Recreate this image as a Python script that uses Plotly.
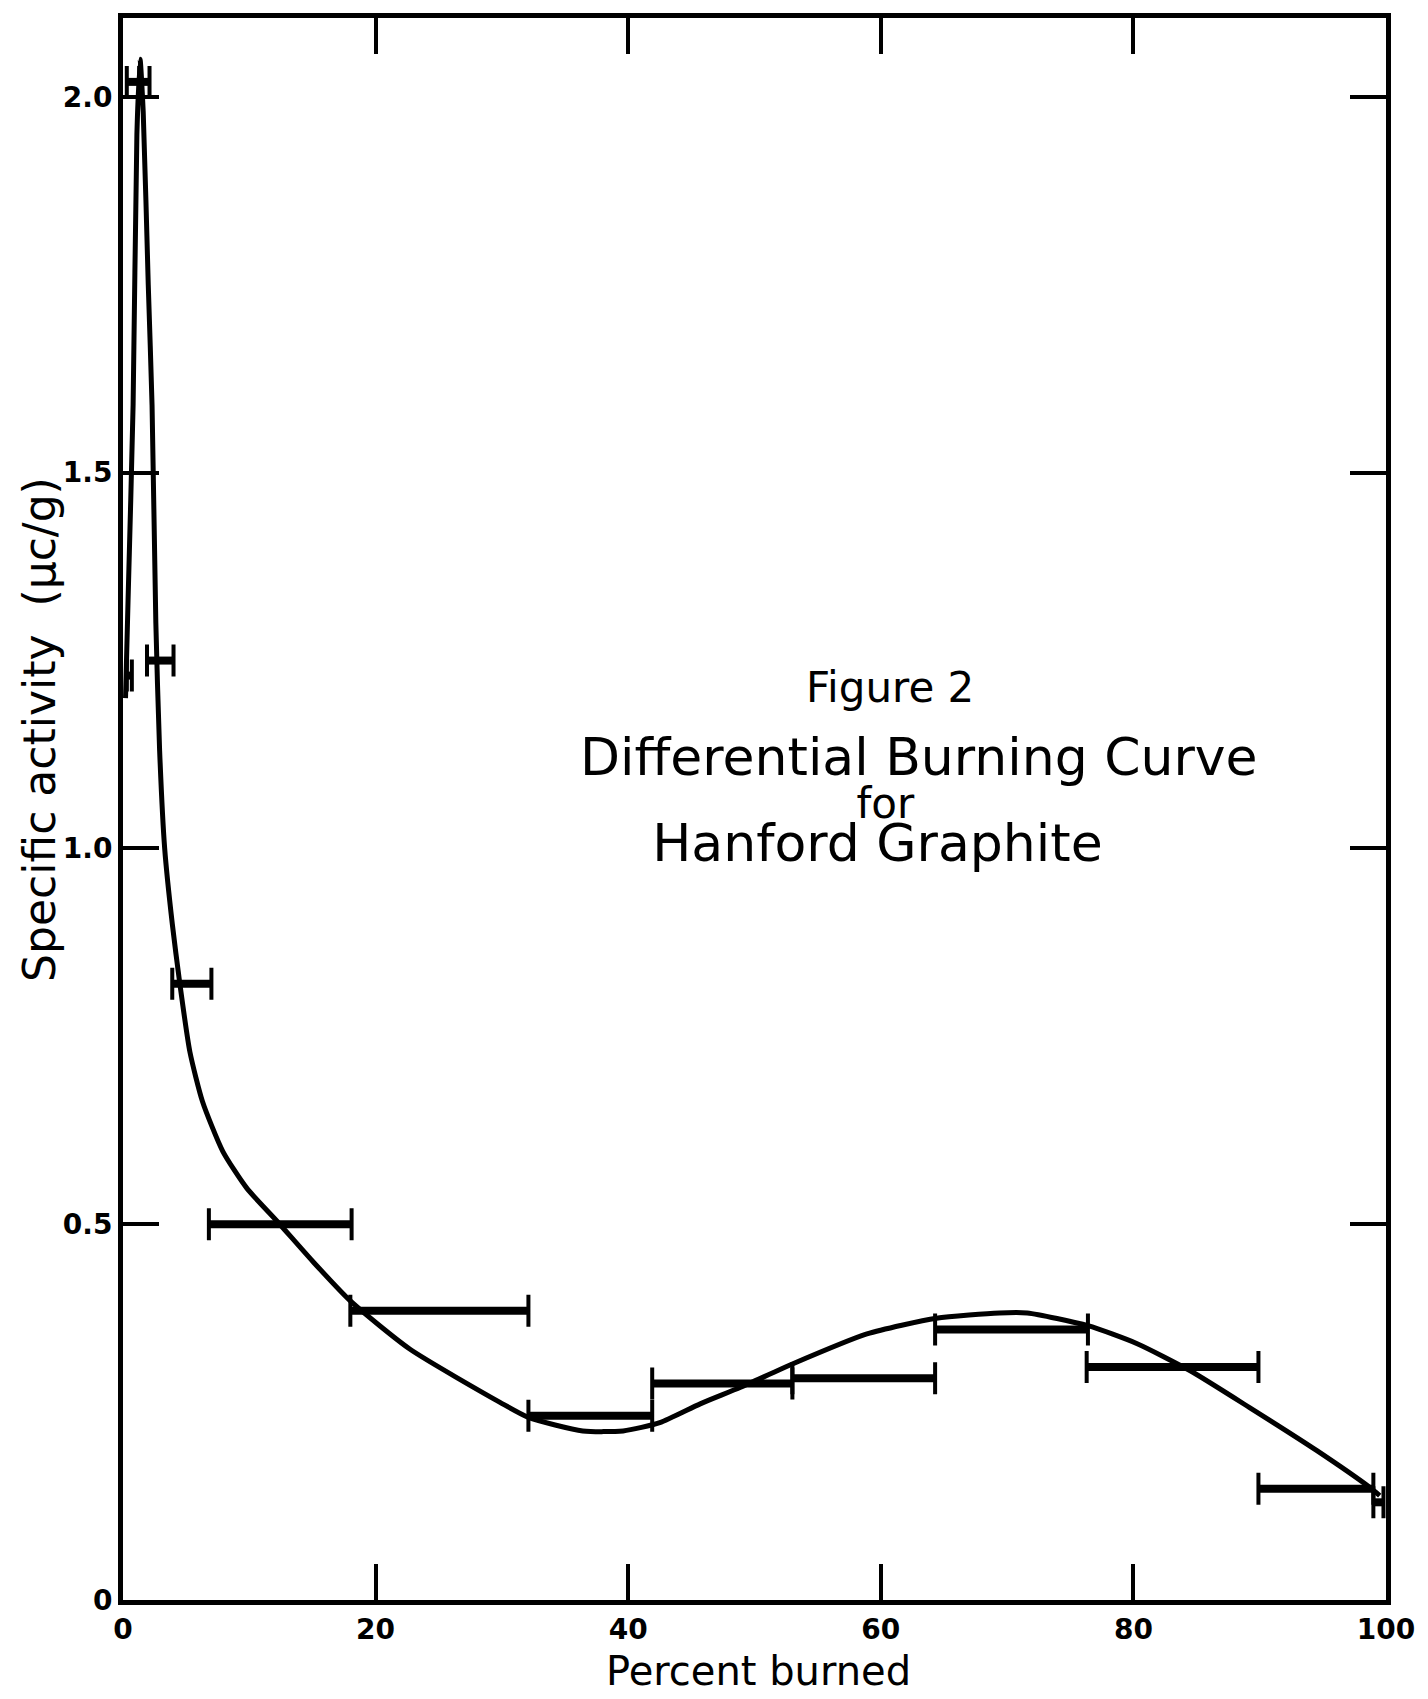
import plotly.graph_objects as go

# ---- data ----
# measured intervals (percent burned) and their specific activity
bar_lo = [0.3, 1.3, 0.3, 1.9, 3.9, 6.8, 18.0, 32.1, 41.9, 53.0, 64.3, 76.3, 89.9, 99.0]
bar_hi = [1.3, 2.1, 0.7, 4.0, 7.0, 18.1, 32.1, 41.9, 53.0, 64.3, 76.4, 89.9, 99.0, 99.8]
bar_val = [2.02, 2.02, 1.23, 1.25, 0.82, 0.50, 0.385, 0.245, 0.288, 0.295, 0.36, 0.31, 0.148, 0.13]

# smooth hand-drawn curve
curve_x = [0.2, 0.4, 0.8, 1.1, 1.35, 1.6, 2.0, 2.3, 2.6, 2.9, 3.3, 3.9, 4.5, 5.3, 6.3, 7.9, 9.8,
           12.2, 15.0, 18.0, 22.7, 29.85, 32.1, 36.4, 39.6, 42.5, 45.7, 48.9, 53.0, 58.9,
           64.4, 69.4, 71.6, 76.4, 80.3, 84.5, 89.2, 94.5, 98.7, 99.5]
curve_y = [1.20, 1.33, 1.59, 1.95, 2.05, 1.98, 1.75, 1.59, 1.30, 1.13, 1.00, 0.90, 0.82, 0.729,
           0.663, 0.597, 0.548, 0.504, 0.451, 0.398, 0.334, 0.263, 0.243, 0.225, 0.225, 0.236,
           0.261, 0.283, 0.314, 0.354, 0.375, 0.382, 0.382, 0.365, 0.341, 0.305, 0.256, 0.199,
           0.150, 0.139]

x_ticks = [0, 20, 40, 60, 80, 100]
x_ticktext = ["0", "20", "40", "60", "80", "100"]
y_ticks = [0, 0.5, 1.0, 1.5, 2.0]
y_ticktext = ["0", "0.5", "1.0", "1.5", "2.0"]

FONT = "DejaVu Sans"

fig = go.Figure()

# curve
fig.add_trace(go.Scatter(x=curve_x, y=curve_y, mode="lines",
                         line=dict(color="black", width=5, shape="spline", smoothing=0.6),
                         hoverinfo="skip", showlegend=False))

# thick horizontal bars
seg_x, seg_y = [], []
for lo, hi, v in zip(bar_lo, bar_hi, bar_val):
    seg_x += [lo, hi, None]
    seg_y += [v, v, None]
fig.add_trace(go.Scatter(x=seg_x, y=seg_y, mode="lines",
                         line=dict(color="black", width=8),
                         hoverinfo="skip", showlegend=False))

# end caps via error bars
mids = [(lo + hi) / 2 for lo, hi in zip(bar_lo, bar_hi)]
halfs = [(hi - lo) / 2 for lo, hi in zip(bar_lo, bar_hi)]
fig.add_trace(go.Scatter(x=mids, y=bar_val, mode="markers",
                         marker=dict(size=1, color="rgba(0,0,0,0)"),
                         error_x=dict(type="data", array=halfs, symmetric=True,
                                      color="black", thickness=4, width=16),
                         hoverinfo="skip", showlegend=False))

axis_common = dict(showline=True, linewidth=5, linecolor="black", mirror="allticks",
                   ticks="inside", ticklen=36, tickwidth=4, tickcolor="black",
                   showgrid=False, zeroline=False,
                   tickfont=dict(family=FONT, size=28, color="black", weight="bold"))

fig.update_xaxes(range=[0, 100], tickvals=x_ticks, ticktext=x_ticktext, **axis_common)
fig.update_yaxes(range=[0, 2.105], tickvals=y_ticks, ticktext=y_ticktext, **axis_common)

fig.add_annotation(x=60.7, y=1.214, xref="x", yref="y", text="Figure 2",
                   showarrow=False, xanchor="center", yanchor="middle",
                   font=dict(family=FONT, size=42, color="black"))

pad = "&nbsp;" * 5
title_block = ('<span style="font-size:52px">Differential Burning Curve</span><br>'
               '<span style="font-size:42px">for' + pad + '</span><br>'
               '<span style="font-size:52px">Hanford Graphite' + pad + '</span>')
fig.add_annotation(x=63.0, y=1.064, xref="x", yref="y", text=title_block,
                   showarrow=False, xanchor="center", yanchor="middle", align="center",
                   font=dict(family=FONT, size=33, color="black"))

fig.add_annotation(text="Percent burned", xref="paper", yref="paper", x=0.503, y=-0.0448,
                   showarrow=False, xanchor="center", yanchor="middle",
                   font=dict(family=FONT, size=40, color="black"))
fig.add_annotation(text="Specific activity  (μc/g)", xref="paper", yref="paper",
                   x=-0.0657, y=0.55, textangle=-90, showarrow=False,
                   xanchor="center", yanchor="middle",
                   font=dict(family=FONT, size=44, color="black"))

fig.update_layout(width=1420, height=1691, autosize=False,
                  margin=dict(l=115, r=42, t=5, b=99),
                  paper_bgcolor="white", plot_bgcolor="white")

fig.write_html("out.html")
